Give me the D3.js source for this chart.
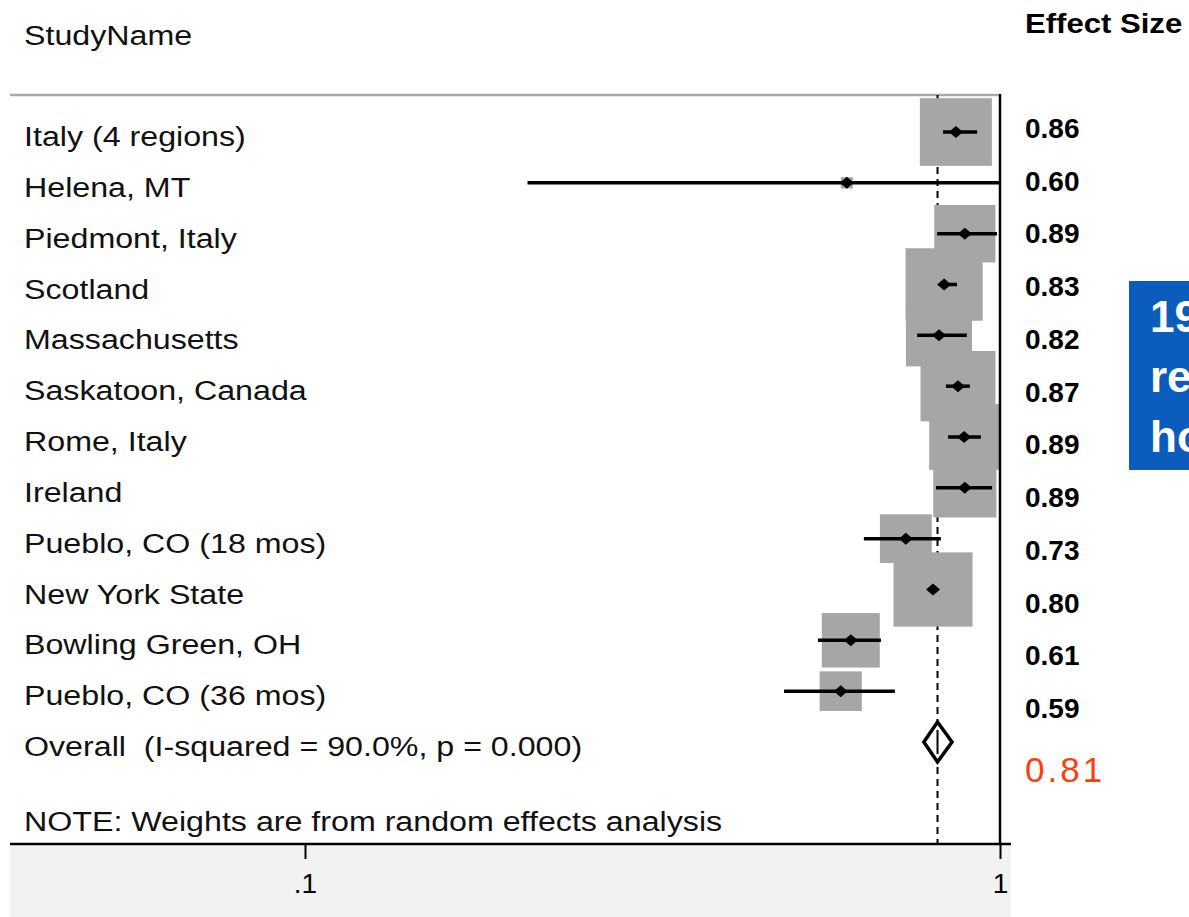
<!DOCTYPE html>
<html>
<head>
<meta charset="utf-8">
<script src="https://cdn.jsdelivr.net/npm/d3@7"></script>
<style>
body { margin: 0; background: #fff; }
svg { display: block; font-family: "Liberation Sans", Arial, sans-serif; }
text { white-space: pre; }
</style>
</head>
<body>
<script>
// forest plot rows, top to bottom
var studies = ["Italy (4 regions)", "Helena, MT", "Piedmont, Italy", "Scotland", "Massachusetts",
  "Saskatoon, Canada", "Rome, Italy", "Ireland", "Pueblo, CO (18 mos)", "New York State",
  "Bowling Green, OH", "Pueblo, CO (36 mos)"];
var est   = [0.864, 0.602, 0.890, 0.831, 0.817, 0.870, 0.888, 0.890, 0.732, 0.801, 0.610, 0.590];
var lower = [0.828, 0.209, 0.812, 0.817, 0.760, 0.836, 0.842, 0.809, 0.637, 0.790, 0.547, 0.489];
var upper = [0.927, 1.000, 0.990, 0.867, 0.896, 0.905, 0.939, 0.974, 0.822, 0.812, 0.674, 0.706];
var weights = [10.8, 0.3, 7.8, 12.4, 9.1, 11.7, 10.2, 8.3, 5.6, 13.0, 7.0, 3.7]; // % weight, sets box size
var esLabels = ["0.86", "0.60", "0.89", "0.83", "0.82", "0.87", "0.89", "0.89", "0.73", "0.80", "0.61", "0.59"];

var overallLabel = "Overall  (I-squared = 90.0%, p = 0.000)";
var overallEst = 0.813, overallLow = 0.777, overallHigh = 0.853;
var overallText = "0.81";

var tickVals = [0.1, 1];
var tickLabels = [".1", "1"];

var sideLines = ["19", "re", "ho"]; // clipped text in the blue box at the right edge

var w = 1189, h = 917;
var sx = 1.15; // the picture is slightly stretched sideways

var svg = d3.select("body").append("svg")
  .attr("width", w)
  .attr("height", h);

// scales
var x = d3.scaleLog().domain([0.1, 1]).range([305, 1000]);
var rowY = d3.scalePoint().domain(d3.range(studies.length + 1)).range([132, 742]);
var valY = d3.scalePoint().domain(d3.range(esLabels.length)).range([138, 718]);
var side = d3.scaleSqrt().domain([0, d3.max(weights)]).range([0, 79]);

var plotLeft = 10, plotTop = 95, plotBottom = 844, plotRight = 1000;

// grey band under the axis
svg.append("rect")
  .attr("x", plotLeft).attr("y", plotBottom)
  .attr("width", 1001).attr("height", h - plotBottom)
  .attr("fill", "#f2f2f2");

// header rule
svg.append("line")
  .attr("x1", plotLeft).attr("x2", plotRight)
  .attr("y1", plotTop).attr("y2", plotTop)
  .attr("stroke", "#a9a9a9").attr("stroke-width", 2.5);

// overall effect dashed line
svg.append("line")
  .attr("x1", x(overallEst)).attr("x2", x(overallEst))
  .attr("y1", plotTop).attr("y2", plotBottom)
  .attr("stroke", "#000").attr("stroke-width", 2)
  .attr("stroke-dasharray", "7,5");

// weight boxes
svg.selectAll("rect.box")
  .data(est)
  .enter().append("rect")
  .attr("class", "box")
  .attr("x", function(d, i) { return x(d) - side(weights[i]) / 2; })
  .attr("y", function(d, i) { return rowY(i) - side(weights[i]) * 0.94 / 2; })
  .attr("width", function(d, i) { return side(weights[i]); })
  .attr("height", function(d, i) { return side(weights[i]) * 0.94; })
  .attr("fill", "#a6a6a6");

// confidence intervals
svg.selectAll("line.ci")
  .data(est)
  .enter().append("line")
  .attr("class", "ci")
  .attr("x1", function(d, i) { return x(lower[i]); })
  .attr("x2", function(d, i) { return x(upper[i]); })
  .attr("y1", function(d, i) { return rowY(i); })
  .attr("y2", function(d, i) { return rowY(i); })
  .attr("stroke", "#000").attr("stroke-width", 3.5);

// point estimates
svg.selectAll("path.pt")
  .data(est)
  .enter().append("path")
  .attr("class", "pt")
  .attr("d", function(d, i) {
    var cx = x(d), cy = rowY(i);
    return "M" + (cx - 7) + "," + cy + "L" + cx + "," + (cy - 6) + "L" + (cx + 7) + "," + cy + "L" + cx + "," + (cy + 6) + "Z";
  })
  .attr("fill", "#000");

// overall diamond
var oy = rowY(studies.length);
svg.append("path")
  .attr("d", "M" + x(overallLow) + "," + oy + "L" + x(overallEst) + "," + (oy - 20) +
    "L" + x(overallHigh) + "," + oy + "L" + x(overallEst) + "," + (oy + 20) + "Z")
  .attr("fill", "#fff").attr("stroke", "#000").attr("stroke-width", 3.5);
svg.append("line")
  .attr("x1", x(overallEst)).attr("x2", x(overallEst))
  .attr("y1", oy - 12).attr("y2", oy + 12)
  .attr("stroke", "#000").attr("stroke-width", 2);

// line of no effect at 1
svg.append("line")
  .attr("x1", x(1)).attr("x2", x(1))
  .attr("y1", plotTop - 1).attr("y2", plotBottom)
  .attr("stroke", "#000").attr("stroke-width", 2.5);

// x axis
var xAxis = d3.axisBottom(x)
  .tickValues(tickVals)
  .tickFormat(function(d, i) { return tickLabels[i]; })
  .tickSize(15)
  .tickSizeOuter(0);

var gx = svg.append("g")
  .attr("transform", "translate(0," + plotBottom + ")")
  .call(xAxis);
gx.select(".domain").remove();
gx.selectAll(".tick line").attr("stroke", "#000").attr("stroke-width", 2);
gx.selectAll(".tick text")
  .attr("y", 49).attr("dy", null)
  .attr("font-size", 28)
  .attr("font-family", "Liberation Sans, Arial, sans-serif")
  .attr("fill", "#000");

svg.append("line")
  .attr("x1", plotLeft).attr("x2", 1011)
  .attr("y1", plotBottom).attr("y2", plotBottom)
  .attr("stroke", "#000").attr("stroke-width", 2.5);

// left column text
function leftText(str, y) {
  svg.append("text")
    .text(str)
    .attr("transform", "translate(24," + y + ") scale(" + sx + ",1)")
    .attr("font-size", 28)
    .attr("fill", "#111");
}

leftText("StudyName", 45);
studies.forEach(function(s, i) { leftText(s, rowY(i) + 14); });
leftText(overallLabel, oy + 14);
leftText("NOTE: Weights are from random effects analysis", 831);

// right column
svg.append("text")
  .text("Effect Size")
  .attr("transform", "translate(1025,33) scale(1.11,1)")
  .attr("font-size", 28)
  .attr("font-weight", "bold")
  .attr("fill", "#000");

svg.selectAll("text.es")
  .data(esLabels)
  .enter().append("text")
  .attr("class", "es")
  .attr("x", 1025)
  .attr("y", function(d, i) { return valY(i); })
  .attr("font-size", 28)
  .attr("font-weight", "bold")
  .attr("fill", "#000")
  .text(function(d) { return d; });

svg.append("text")
  .text(overallText)
  .attr("x", 1025).attr("y", 782)
  .attr("font-size", 35)
  .attr("letter-spacing", 3)
  .attr("fill", "#ff3c0a");

// blue box at the right edge
svg.append("rect")
  .attr("x", 1129).attr("y", 281)
  .attr("width", 80).attr("height", 189)
  .attr("fill", "#0b5cbd");

svg.selectAll("text.side")
  .data(sideLines)
  .enter().append("text")
  .attr("class", "side")
  .attr("x", 1150)
  .attr("y", function(d, i) { return 332 + i * 60; })
  .attr("font-size", 44)
  .attr("font-weight", "bold")
  .attr("fill", "#fff")
  .text(function(d) { return d; });
</script>
</body>
</html>
